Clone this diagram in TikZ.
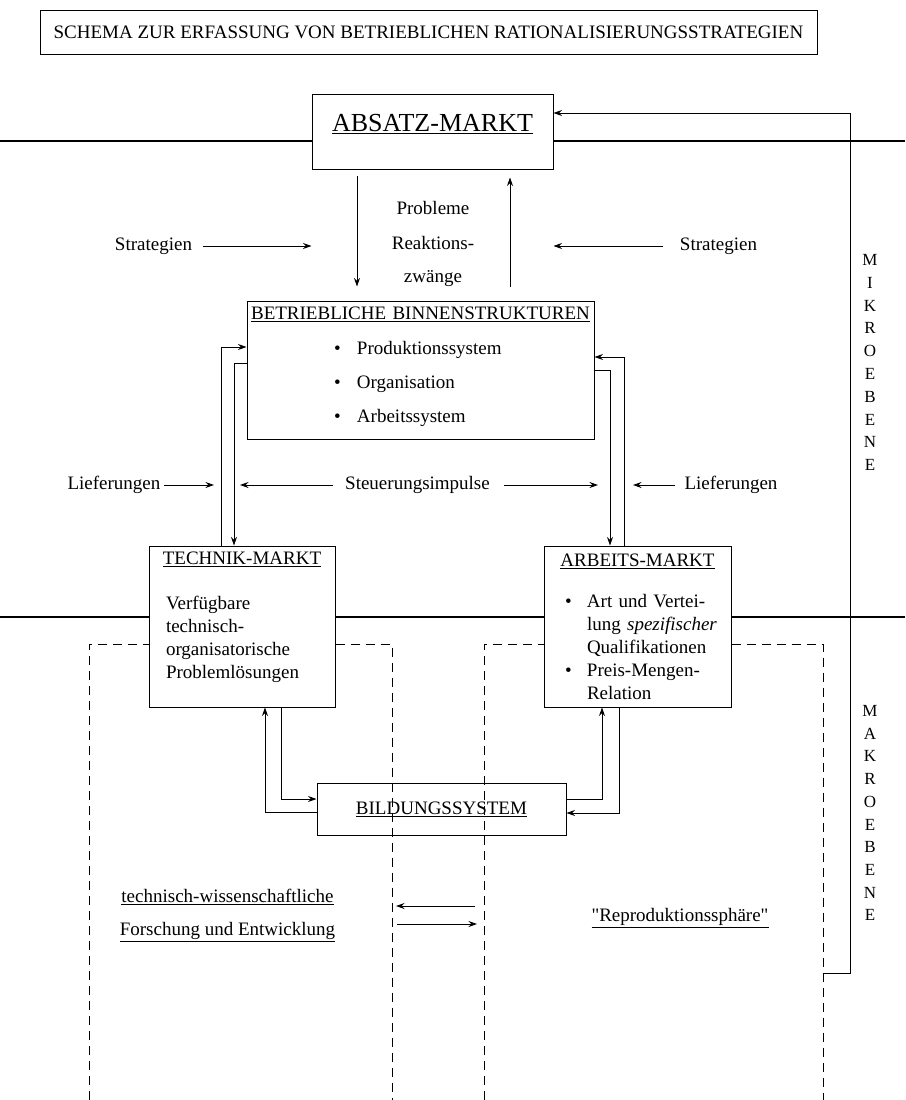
\documentclass[tikz,border=0pt]{standalone}
\usepackage{fontspec}
\setmainfont{Liberation Serif}
\usepackage{tikz}
\usetikzlibrary{arrows.meta}

\begin{document}
\begin{tikzpicture}[x=1pt, y=-1pt, line width=1pt,
    font=\fontsize{19pt}{23pt}\selectfont,
    box/.style={draw, inner sep=0pt, align=left},
    lbl/.style={inner sep=0pt},
    pfeil/.style={-{Stealth[length=8.5pt, width=6pt]}},
    ebene/.style={line width=1.3pt},
    bereich/.style={dash pattern=on 9pt off 6pt}]
  \useasboundingbox (0, 0) rectangle (905, 1100);

  % Titel
  \node[box, minimum width=777pt, minimum height=44pt] (titel) at (428.5, 32)
    {SCHEMA ZUR ERFASSUNG VON BETRIEBLICHEN RATIONALISIERUNGSSTRATEGIEN};

  % Maerkte, Betrieb, Bildung
  \node[box, minimum width=241pt, minimum height=75pt,
    font=\fontsize{26pt}{30pt}\selectfont] (absatz) at (432.5, 131.5)
    {\underline{ABSATZ-MARKT}\rule[-17pt]{0pt}{17pt}};
  \node[box, minimum width=347pt, minimum height=138pt, text width=347pt] (binnen) at (420.5, 370)
    {\makebox[347pt]{\underline{BETRIEBLICHE BINNENSTRUKTUREN}}\\[12pt]
     \hspace*{87pt}\makebox[23pt][l]{\textbullet}Produktionssystem\\[11pt]
     \hspace*{87pt}\makebox[23pt][l]{\textbullet}Organisation\\[11pt]
     \hspace*{87pt}\makebox[23pt][l]{\textbullet}Arbeitssystem\rule[-11pt]{0pt}{11pt}};
  \node[box, minimum width=186pt, minimum height=161pt, text width=186pt] (technik) at (242, 626.5)
    {\makebox[186pt]{\underline{TECHNIK-MARKT}}\\[22pt]
     \hspace*{17pt}Verfügbare\\
     \hspace*{17pt}technisch-\\
     \hspace*{17pt}organisatorische\\
     \hspace*{17pt}Problemlösungen\rule[-22pt]{0pt}{22pt}};
  \node[box, minimum width=187pt, minimum height=161pt, text width=187pt] (arbeits) at (637.5, 626.5)
    {\makebox[187pt]{\underline{ARBEITS-MARKT}}\\[18pt]
     \hspace*{21pt}\makebox[22pt][l]{\textbullet}Art und Vertei-\\
     \hspace*{43pt}lung \textit{spezifischer}\\
     \hspace*{43pt}Qualifikationen\\
     \hspace*{21pt}\makebox[22pt][l]{\textbullet}Preis-Mengen-\\
     \hspace*{43pt}Relation};
  \node[box, minimum width=249pt, minimum height=52pt] (bildung) at (441.5, 809)
    {\underline{BILDUNGSSYSTEM}};

  % Mikro- und Makroebene
  \coordinate (mikro l) at (0, 141);
  \coordinate (mikro r) at (905, 141);
  \draw[ebene] (mikro l) -- (mikro l -| absatz.west)
    (absatz.east |- mikro r) -- (mikro r);
  \coordinate (makro l) at (0, 617);
  \coordinate (makro r) at (905, 617);
  \draw[ebene] (makro l) -- (makro l -| technik.west)
    (technik.east |- makro l) -- (arbeits.west |- makro l)
    (arbeits.east |- makro r) -- (makro r);

  \coordinate (ruecklauf) at (850, 113);
  \coordinate (fuss) at (823, 973);
  \draw[pfeil] (fuss) -| (ruecklauf) -- (ruecklauf -| absatz.east);

  \foreach \b [count=\i] in {M, I, K, R, O, E, B, E, N, E} {
    \node[lbl, font=\fontsize{17pt}{17pt}\selectfont] (mikro \i) at (870, {237.2 + 22.8 * \i}) {\b};
  }
  \foreach \b [count=\i] in {M, A, K, R, O, E, B, E, N, E} {
    \node[lbl, font=\fontsize{17pt}{17pt}\selectfont] (makro \i) at (870, {688.3 + 22.7 * \i}) {\b};
  }

  % Bereiche (gestrichelt)
  \coordinate (unten) at (0, 1100);
  \coordinate (fue l) at (89, 644);
  \coordinate (fue r) at (392, 644);
  \coordinate (rep l) at (484, 644);
  \coordinate (rep r) at (823, 644);
  \draw[bereich] (fue l |- unten) -- (fue l) -- (fue l -| technik.west);
  \draw[bereich] (technik.east |- fue r) -- (fue r) -- (fue r |- unten);
  \draw[bereich] (rep l |- unten) -- (rep l) -- (rep l -| arbeits.west);
  \draw[bereich] (arbeits.east |- rep r) -- (rep r) -- (rep r |- unten);

  % Absatzmarkt <-> Betrieb
  \coordinate (abwaerts) at (357, 0);
  \coordinate (aufwaerts) at (510, 0);
  \draw[pfeil, shorten <=6pt, shorten >=14pt] (absatz.south -| abwaerts) -- (binnen.north -| abwaerts);
  \draw[pfeil, shorten <=14pt, shorten >=8pt] (binnen.north -| aufwaerts) -- (absatz.south -| aufwaerts);
  \node[lbl, align=center] (probleme) at (433, 243.6) {Probleme\\[12pt]Reaktions-\\[10pt]zwänge};
  \node[lbl] (strat l) at (153.5, 246) {Strategien};
  \node[lbl] (strat r) at (718.5, 246) {Strategien};
  \draw[pfeil, shorten <=10pt] (strat l.east) -- (strat l.east -| absatz.west);
  \draw[pfeil, shorten <=16pt] (strat r.west) -- (strat r.west -| absatz.east);

  % Betrieb <-> Technik- und Arbeitsmarkt
  \coordinate (liefer l) at (221, 347);
  \coordinate (steuer l) at (234, 363);
  \coordinate (steuer r) at (610, 370);
  \coordinate (liefer r) at (624, 357);
  \draw[pfeil] (technik.north -| liefer l) |- (binnen.west |- liefer l);
  \draw[pfeil] (binnen.west |- steuer l) -| (technik.north -| steuer l);
  \draw[pfeil] (binnen.east |- steuer r) -| (arbeits.north -| steuer r);
  \draw[pfeil] (arbeits.north -| liefer r) |- (binnen.east |- liefer r);
  \node[lbl] (liefer text l) at (114, 485) {Lieferungen};
  \node[lbl] (liefer text r) at (731, 485) {Lieferungen};
  \node[lbl] (steuerung) at (417.5, 485) {Steuerungsimpulse};
  \draw[pfeil, shorten <=3pt, shorten >=7pt] (liefer text l.east) -- (liefer text l.east -| liefer l);
  \draw[pfeil, shorten <=9pt, shorten >=9pt] (liefer text r.west) -- (liefer text r.west -| liefer r);
  \draw[pfeil, shorten <=12pt, shorten >=6pt] (steuerung.west) -- (steuerung.west -| steuer l);
  \draw[pfeil, shorten <=14pt, shorten >=12pt] (steuerung.east) -- (steuerung.east -| steuer r);

  % Maerkte <-> Bildungssystem
  \coordinate (tb) at (281, 799);
  \coordinate (bt) at (265, 812);
  \coordinate (ba) at (602, 799);
  \coordinate (ab) at (619, 813);
  \draw[pfeil] (technik.south -| tb) |- (bildung.west |- tb);
  \draw[pfeil] (bildung.west |- bt) -| (technik.south -| bt);
  \draw[pfeil] (bildung.east |- ba) -| (arbeits.south -| ba);
  \draw[pfeil] (arbeits.south -| ab) |- (bildung.east |- ab);

  % Forschung und Reproduktion
  \node[lbl] (forschung a) at (227.5, 897) {\underline{technisch-wissenschaftliche}};
  \node[lbl] (forschung b) at (227.5, 932) {\underline{Forschung und Entwicklung}};
  \node[lbl] (repro) at (680, 918) {\underline{\textquotedbl Reproduktionssphäre\textquotedbl}};
  \coordinate (tausch o) at (0, 906);
  \coordinate (tausch u) at (0, 924);
  \draw[pfeil, shorten <=9pt, shorten >=4pt] (rep l |- tausch o) -- (fue r |- tausch o);
  \draw[pfeil, shorten <=5pt, shorten >=7pt] (fue r |- tausch u) -- (rep l |- tausch u);
\end{tikzpicture}
\end{document}
